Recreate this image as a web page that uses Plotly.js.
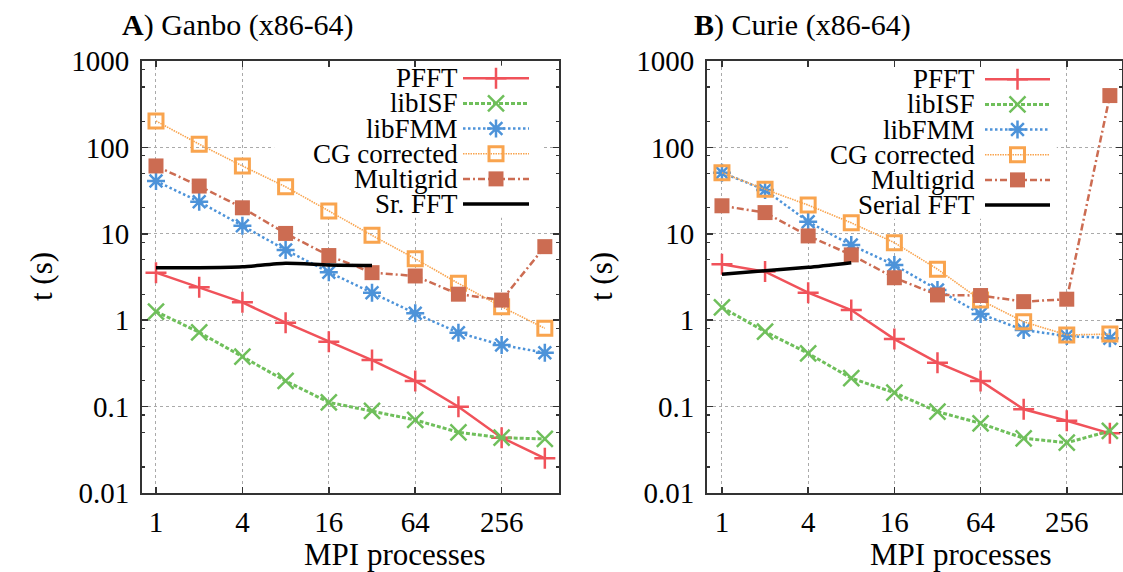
<!DOCTYPE html>
<html><head><meta charset="utf-8">
<script src="https://cdn.plot.ly/plotly-3.0.1.min.js"></script>
<style>html,body{margin:0;padding:0;background:#fff}#chart{width:1123px;height:572px}</style>
</head><body><div id="chart"></div>
<script>
// ---- data ----
const procs = [1, 2, 4, 8, 16, 32, 64, 128, 256, 512];
const xTickVals = [1, 4, 16, 64, 256];
const yTickVals = [0.01, 0.1, 1, 10, 100, 1000];
const yTickText = ['0.01', '0.1', '1', '10', '100', '1000'];
const yMinorVals = [0.02, 0.05, 0.08, 0.2, 0.5, 0.8, 2, 5, 8, 20, 50, 80, 200, 500, 800];

const seriesNames = ['PFFT', 'libISF', 'libFMM', 'CG corrected', 'Multigrid'];
const ganboSerialName = 'Sr. FFT';
const curieSerialName = 'Serial FFT';

// Panel A: Ganbo
const ganboPFFT = [3.55, 2.4, 1.61, 0.935, 0.564, 0.346, 0.198, 0.0998, 0.0437, 0.0252];
const ganboISF  = [1.26, 0.724, 0.378, 0.198, 0.112, 0.089, 0.070, 0.0504, 0.0437, 0.0422];
const ganboFMM  = [40.8, 23.5, 12.4, 6.5, 3.6, 2.08, 1.2, 0.716, 0.516, 0.42];
const ganboCG   = [202, 109, 61, 35, 18.4, 9.6, 5.15, 2.67, 1.43, 0.805];
const ganboMG   = [61, 35.7, 20, 10.1, 5.6, 3.55, 3.25, 2.0, 1.71, 7.1];
const ganboSerialProcs = [1, 2, 4, 8, 16, 32];
const ganboSerial = [4.05, 4.05, 4.15, 4.55, 4.35, 4.3];

// Panel B: Curie
const curiePFFT = [4.43, 3.65, 2.08, 1.31, 0.605, 0.322, 0.198, 0.093, 0.0687, 0.049];
const curieISF  = [1.41, 0.736, 0.414, 0.213, 0.145, 0.0873, 0.064, 0.043, 0.0382, 0.0522];
const curieFMM  = [51, 32.2, 13.8, 7.4, 4.35, 2.24, 1.18, 0.77, 0.656, 0.62];
const curieCG   = [51, 32.7, 21.5, 13.4, 7.9, 3.9, 1.71, 0.96, 0.675, 0.69];
const curieMG   = [21.1, 17.6, 9.45, 5.7, 3.1, 1.96, 1.93, 1.64, 1.75, 398];
const curieSerialProcs = [1, 2, 4, 8];
const curieSerial = [3.4, 3.74, 4.09, 4.63];

// legend key box extents (x in processes, y in seconds) for each panel
const ganboKeyBoxX = [6.66, 498.5], ganboKeyBoxY = [15.3, 1000];
const curieKeyBoxX = [2.99, 218], curieKeyBoxY = [14.96, 1000];

// ---- styles ----
const FONT = 'Liberation Serif';
const colors = ['#F0525A', '#6FBF5B', '#4D93D9', '#F9A44E', '#CC6C52'];
const styles = [
  {line: {color: colors[0], width: 2.5}, marker: {symbol: 'cross-thin-open', size: 15, color: colors[0], line: {color: colors[0], width: 2.5}}},
  {line: {color: colors[1], width: 3, dash: '4px,2px'}, marker: {symbol: 'x-thin-open', size: 16, color: colors[1], line: {color: colors[1], width: 2.5}}},
  {line: {color: colors[2], width: 2.5, dash: '2.5px,2.5px'}, marker: {symbol: 'asterisk-open', size: 15, color: colors[2], line: {color: colors[2], width: 2.5}}},
  {line: {color: colors[3], width: 1.6, dash: '1.5px,1px'}, marker: {symbol: 'square-open', size: 14, color: colors[3], line: {color: colors[3], width: 3}}},
  {line: {color: colors[4], width: 2.5, dash: '7px,3px,2px,3px'}, marker: {symbol: 'square', size: 15, color: colors[4], line: {width: 0}}}
];
const serialStyle = {color: '#000', width: 3.5};

function keyBox(xa, ya, bx, by) {
  return {x: [bx[0], bx[1], bx[1], bx[0], bx[0]], y: [by[0], by[0], by[1], by[1], by[0]], xaxis: xa, yaxis: ya,
    type: 'scatter', mode: 'lines', fill: 'toself', fillcolor: '#fff', line: {width: 0, color: 'rgba(0,0,0,0)'},
    showlegend: false, hoverinfo: 'skip'};
}

function panelTraces(xa, ya, arrays, sx, sy, bx, by) {
  const tr = [keyBox(xa, ya, bx, by)];
  arrays.forEach((vals, i) => {
    tr.push({x: procs, y: vals, xaxis: xa, yaxis: ya, type: 'scatter', mode: 'lines+markers',
      line: styles[i].line, marker: styles[i].marker, showlegend: false, cliponaxis: false, hoverinfo: 'skip'});
  });
  tr.push({x: sx, y: sy, xaxis: xa, yaxis: ya, type: 'scatter', mode: 'lines',
    line: Object.assign({shape: 'spline', smoothing: 0.6}, serialStyle), showlegend: false, hoverinfo: 'skip'});
  return tr;
}

function legendTraces(xa, ya) {
  const tr = [];
  styles.forEach((s, i) => {
    tr.push({x: [0, 1], y: [i, i], xaxis: xa, yaxis: ya, type: 'scatter', mode: 'lines',
      line: s.line, showlegend: false, hoverinfo: 'skip'});
    tr.push({x: [0.5], y: [i], xaxis: xa, yaxis: ya, type: 'scatter', mode: 'markers',
      marker: s.marker, showlegend: false, hoverinfo: 'skip', cliponaxis: false});
  });
  tr.push({x: [0, 1], y: [5, 5], xaxis: xa, yaxis: ya, type: 'scatter', mode: 'lines', line: serialStyle, showlegend: false, hoverinfo: 'skip'});
  return tr;
}

const data = [].concat(
  panelTraces('x', 'y', [ganboPFFT, ganboISF, ganboFMM, ganboCG, ganboMG], ganboSerialProcs, ganboSerial, ganboKeyBoxX, ganboKeyBoxY),
  panelTraces('x2', 'y2', [curiePFFT, curieISF, curieFMM, curieCG, curieMG], curieSerialProcs, curieSerial, curieKeyBoxX, curieKeyBoxY),
  legendTraces('x3', 'y3'),
  legendTraces('x4', 'y4')
);

const W = 1123, H = 572;
const px = v => v / W, py = v => 1 - v / H;

function xAxis(dom, range, anchor) {
  return {domain: dom, anchor: anchor, type: 'log', range: range,
    tickmode: 'array', tickvals: xTickVals, ticktext: xTickVals.map(String),
    ticks: 'inside', ticklen: 6, tickwidth: 1.5, tickcolor: '#333',
    showline: true, linecolor: '#333', linewidth: 2, mirror: 'allticks',
    showgrid: true, gridcolor: '#aaa', griddash: 'dot', gridwidth: 1,
    zeroline: false, tickfont: {family: FONT, size: 29, color: '#000'}, ticklabelstandoff: 2, fixedrange: true};
}
function yAxis(dom, anchor) {
  return {domain: dom, anchor: anchor, type: 'log', range: [-2, 3],
    tickmode: 'array', tickvals: yTickVals, ticktext: yTickText,
    ticks: 'inside', ticklen: 6, tickwidth: 1.5, tickcolor: '#333',
    minor: {tickmode: 'array', tickvals: yMinorVals, ticks: 'inside', ticklen: 3, tickwidth: 1.2, tickcolor: '#333', showgrid: false},
    showline: true, linecolor: '#333', linewidth: 2, mirror: 'allticks',
    showgrid: true, gridcolor: '#aaa', griddash: 'dot', gridwidth: 1,
    zeroline: false, tickfont: {family: FONT, size: 29, color: '#000'}, ticklabelstandoff: 5, fixedrange: true};
}
const hidden = (dom, range, anchor) => ({domain: dom, range: range, anchor: anchor, visible: false, fixedrange: true});

const yDom = [py(493), py(61)];
const layout = {
  width: W, height: H, margin: {l: 0, r: 0, t: 0, b: 0},
  paper_bgcolor: '#fff', plot_bgcolor: '#fff', showlegend: false,
  font: {family: FONT, color: '#000'},
  xaxis: xAxis([px(142), px(559)], [-0.0975, 2.808], 'y'),
  yaxis: yAxis(yDom, 'x'),
  xaxis2: xAxis([px(707), px(1122)], [-0.1045, 2.794], 'y2'),
  yaxis2: yAxis(yDom, 'x2'),
  xaxis3: hidden([px(463), px(529)], [0, 1], 'y3'),
  yaxis3: hidden([py(216.6), py(65.7)], [5.5, -0.5], 'x3'),
  xaxis4: hidden([px(985), px(1050)], [0, 1], 'y4'),
  yaxis4: hidden([py(217.6), py(66.7)], [5.5, -0.5], 'x4'),
  annotations: []
};

const A = layout.annotations;
A.push({text: '<b>A</b>) Ganbo (x86-64)', xref: 'paper', yref: 'paper', x: px(120), y: py(25), xanchor: 'left', yanchor: 'middle', showarrow: false, font: {family: FONT, size: 30}});
A.push({text: '<b>B</b>) Curie (x86-64)', xref: 'paper', yref: 'paper', x: px(692), y: py(25), xanchor: 'left', yanchor: 'middle', showarrow: false, font: {family: FONT, size: 30}});
[41, 601].forEach(xp => {
  A.push({text: 't (s)', xref: 'paper', yref: 'paper', x: px(xp), y: py(277), xanchor: 'center', yanchor: 'middle', textangle: -90, showarrow: false, font: {family: FONT, size: 31}});
});
[395, 961].forEach(xp => {
  A.push({text: 'MPI processes', xref: 'paper', yref: 'paper', x: px(xp), y: py(554), xanchor: 'center', yanchor: 'middle', showarrow: false, font: {family: FONT, size: 31}});
});
const legA = seriesNames.concat([ganboSerialName]);
const legB = seriesNames.concat([curieSerialName]);
legA.forEach((n, i) => A.push({text: n, xref: 'x3', yref: 'y3', x: 0, y: i, xanchor: 'right', yanchor: 'middle', xshift: -3, showarrow: false, font: {family: FONT, size: 27}}));
legB.forEach((n, i) => A.push({text: n, xref: 'x4', yref: 'y4', x: 0, y: i, xanchor: 'right', yanchor: 'middle', xshift: -8, showarrow: false, font: {family: FONT, size: 27}}));

Plotly.newPlot('chart', data, layout, {staticPlot: true, displayModeBar: false});
</script></body></html>
